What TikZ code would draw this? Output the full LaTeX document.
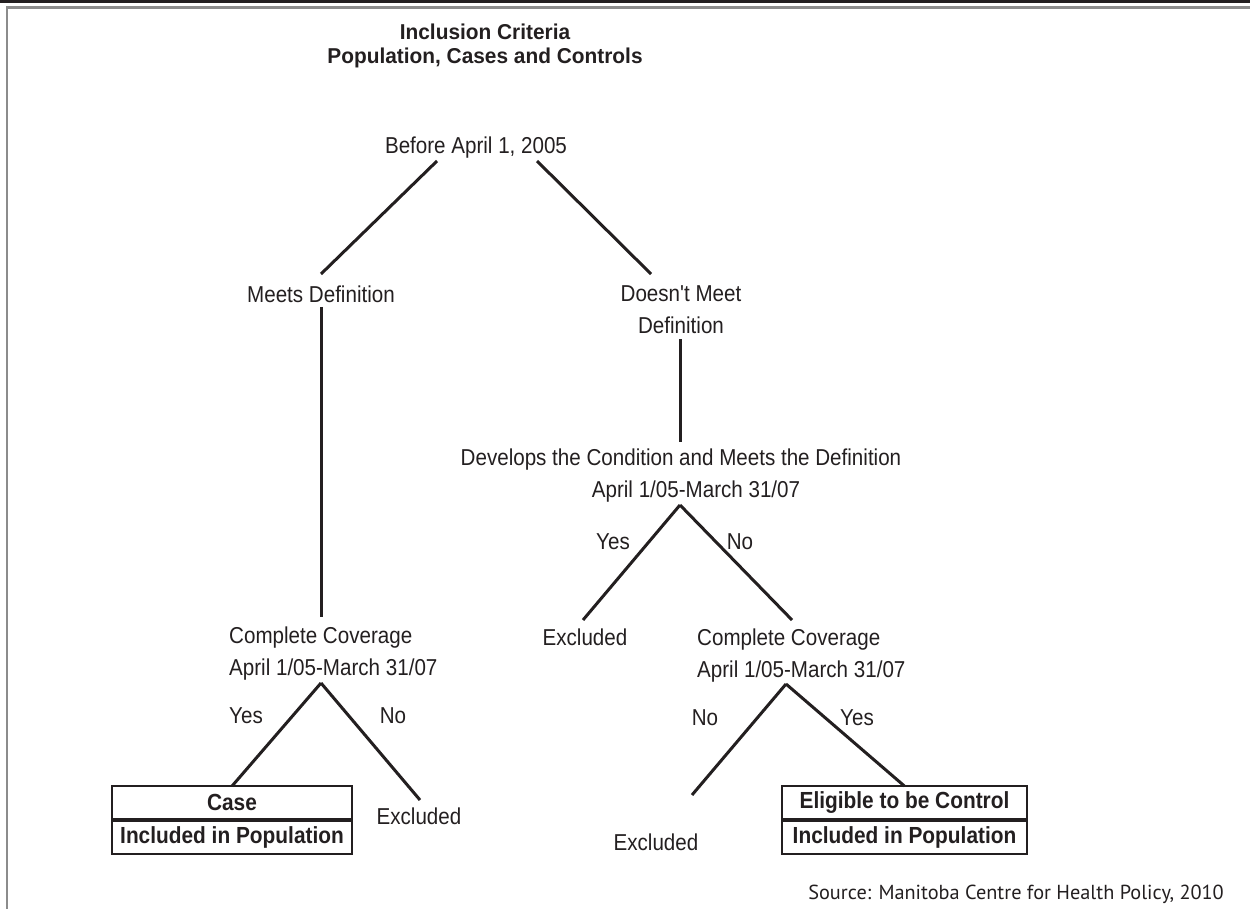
\documentclass[tikz,border=0pt]{standalone}
\usepackage{fontspec}
\newfontfamily\labelfont{Liberation Sans}[FakeStretch=0.895]
\newfontfamily\titlefont{Liberation Sans}[FakeStretch=0.97]
\newfontfamily\srcfont{PT Sans}
\usetikzlibrary{calc}
\definecolor{ink}{HTML}{231F20}
\definecolor{rulegray}{HTML}{8C8C8C}
\begin{document}
\begin{tikzpicture}[x=1pt,y=-1pt,
  lbl/.style={inner sep=0pt, font=\labelfont\fontsize{23}{32}\selectfont, text=ink},
  ttl/.style={inner sep=0pt, font=\titlefont\bfseries\fontsize{21.5}{24}\selectfont, text=ink},
  edge/.style={line width=3pt, draw=ink},
  boxrow/.style={draw=ink, line width=1.8pt, minimum height=33pt, inner sep=0pt, font=\labelfont\bfseries\fontsize{23.3}{28}\selectfont, text=ink},
  src/.style={inner sep=0pt, font=\srcfont\fontsize{20.3}{24}\selectfont, text=ink}
]
\useasboundingbox (0,0) rectangle (1250,909);
\fill[ink] (0,0) rectangle (1250,3);
\draw[rulegray, line width=2.5pt] (1250,7.5) -- (7,7.5) -- (7,909);

\node[ttl, anchor=base, align=center] (title) at (485,64) {Inclusion Criteria\\Population, Cases and Controls};

\node[lbl, anchor=base] (before) at (476,154) {Before April 1, 2005};
\node[lbl, anchor=base] (meets) at (321,302) {Meets Definition};
\node[lbl, anchor=base, align=center] (dnm) at (681,333) {Doesn't Meet\\Definition};
\node[lbl, anchor=base, align=center] (dev) at (681,497) {Develops the Condition and Meets the Definition\\\hspace*{30pt}April 1/05-March 31/07};
\node[lbl, anchor=base] (exm) at (585,645) {Excluded};
\node[lbl, anchor=base west, align=left] (ccr) at (697,677) {Complete Coverage\\April 1/05-March 31/07};
\node[lbl, anchor=base west, align=left] (ccl) at (229,675) {Complete Coverage\\April 1/05-March 31/07};

\node[lbl, anchor=base] (yesm) at (613,549) {Yes};
\node[lbl, anchor=base] (nom) at (740,549) {No};
\node[lbl, anchor=base] (yesl) at (246,723) {Yes};
\node[lbl, anchor=base] (nol) at (393,723) {No};
\node[lbl, anchor=base] (nor) at (705,725) {No};
\node[lbl, anchor=base] (yesr) at (857,725) {Yes};

\node[lbl, anchor=base] (exl) at (419,824) {Excluded};
\node[lbl, anchor=base] (exr) at (656,850) {Excluded};

\node[boxrow, minimum width=240pt] (case) at (232,802.5) {Case};
\node[boxrow, minimum width=240pt, anchor=north] (incl) at (case.south) {Included in Population};
\node[boxrow, minimum width=245pt] (ctrl) at (904.5,802.5) {Eligible to be Control};
\node[boxrow, minimum width=245pt, anchor=north] (inclr) at (ctrl.south) {Included in Population};

\node[src, anchor=base east] (source) at (1224,899) {Source: Manitoba Centre for Health Policy, 2010};

% connectors
\draw[edge] ($(before.base)+(-39,7)$) -- ($(meets.base)+(0,-28)$);
\draw[edge] ($(before.base)+(61,7)$) -- ($(dnm.base)+(-30,-59)$);
\draw[edge] ($(meets.base)+(0,5)$) -- ($(ccl.base west)+(92,-58)$);
\draw[edge] ($(dnm.base)+(-1,6)$) -- ($(dev.base)+(-1,-55)$);
\draw[edge] ($(dev.base)+(-1,8)$) -- ($(exm.base)+(-2,-25)$);
\draw[edge] ($(dev.base)+(-1,8)$) -- ($(ccr.base west)+(95,-57)$);
\draw[edge] ($(ccl.base west)+(92,8)$) -- ($(case.north)+(0,1)$);
\draw[edge] ($(ccl.base west)+(92,8)$) -- ($(exl.base)+(1,-24)$);
\draw[edge] ($(ccr.base west)+(89,7)$) -- ($(exr.base)+(36,-55)$);
\draw[edge] ($(ccr.base west)+(89,7)$) -- ($(ctrl.north)+(0,1)$);
\end{tikzpicture}
\end{document}
